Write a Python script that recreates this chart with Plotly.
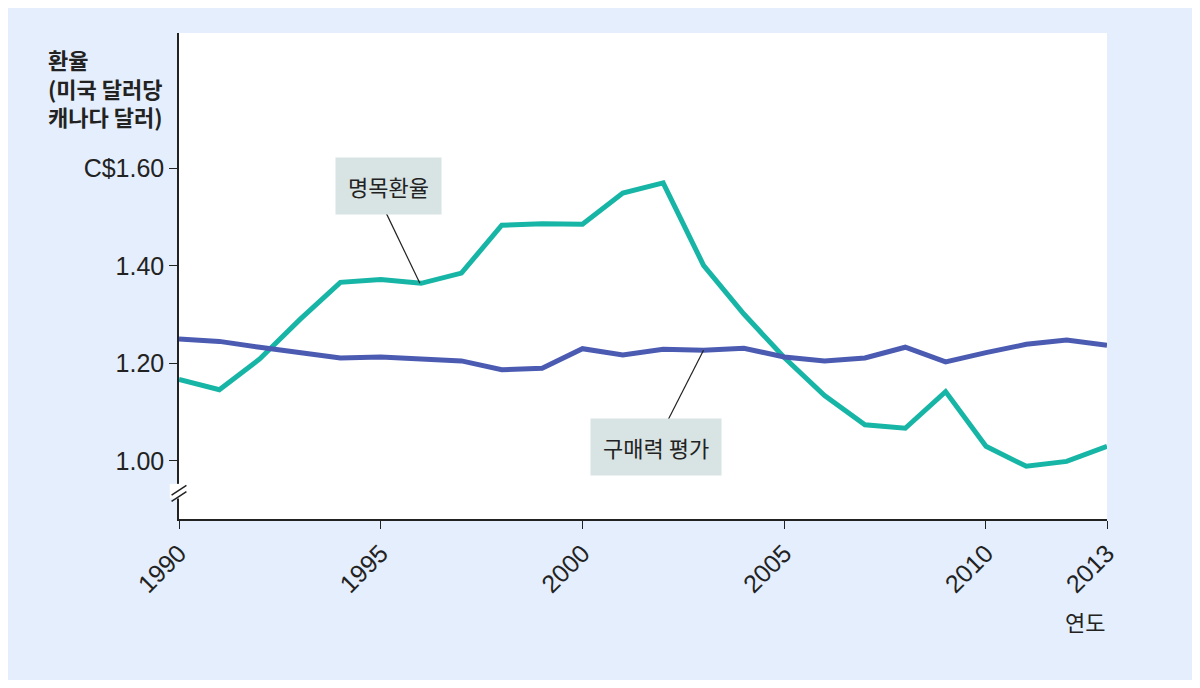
import plotly.graph_objects as go

years = list(range(1990, 2014))
nominal = [1.167, 1.146, 1.209, 1.290, 1.366, 1.372, 1.364, 1.385, 1.483, 1.486, 1.485, 1.549,
           1.570, 1.401, 1.301, 1.212, 1.134, 1.074, 1.067, 1.142, 1.030, 0.989, 0.999, 1.030]
ppp = [1.250, 1.245, 1.233, 1.222, 1.211, 1.213, 1.210, 1.205, 1.187, 1.190, 1.230, 1.217,
       1.229, 1.227, 1.231, 1.213, 1.205, 1.211, 1.233, 1.203, 1.222, 1.239, 1.248, 1.237]
ytick_vals = [1.00, 1.20, 1.40, 1.60]
ytick_text = ["1.00", "1.20", "1.40", "C$1.60"]
xtick_vals = [1990, 1995, 2000, 2005, 2010, 2013]

KR = "Noto Sans CJK KR"
NUM = "Liberation Sans Narrow, Liberation Sans, Arial"

fig = go.Figure()
fig.add_trace(go.Scatter(x=years, y=nominal, mode="lines", line=dict(color="#17B5A6", width=5)))
fig.add_trace(go.Scatter(x=years, y=ppp, mode="lines", line=dict(color="#4C5BB2", width=5)))

fig.update_layout(
    width=1184, height=672, showlegend=False,
    paper_bgcolor="#E4EEFC", plot_bgcolor="white",
    margin=dict(l=171, r=85, t=25, b=161),
    xaxis=dict(range=[1990, 2013], tickvals=xtick_vals, ticks="outside", ticklen=8,
               tickcolor="#222", showline=True, linecolor="#222", linewidth=1.5,
               showgrid=False, zeroline=False, tickangle=-45,
               tickfont=dict(family=NUM, size=25, color="#222")),
    yaxis=dict(range=[0.881, 1.877], tickvals=ytick_vals, ticktext=ytick_text,
               ticks="outside", ticklen=8, tickcolor="#222", showline=True,
               linecolor="#222", linewidth=1.5, showgrid=False, zeroline=False,
               tickfont=dict(family=NUM, size=25, color="#222")),
    shapes=[
        dict(type="rect", xref="paper", yref="y", x0=-0.01, x1=0.01, y0=0.923, y1=0.953,
             fillcolor="white", line=dict(width=0), layer="above"),
        dict(type="line", xref="paper", yref="y", x0=-0.008, x1=0.008, y0=0.93, y1=0.95,
             line=dict(color="#222", width=1.5)),
        dict(type="line", xref="paper", yref="y", x0=-0.008, x1=0.008, y0=0.917, y1=0.937,
             line=dict(color="#222", width=1.5)),
        dict(type="line", xref="x", yref="y", x0=1995.1, y0=1.514, x1=1995.97, y1=1.364,
             line=dict(color="#222", width=1.2)),
        dict(type="line", xref="x", yref="y", x0=2002.12, y0=1.084, x1=2003.0, y1=1.227,
             line=dict(color="#222", width=1.2)),
    ],
    annotations=[
        dict(text="명목환율", x=1995.18, y=1.563, xref="x", yref="y", showarrow=False,
             font=dict(family=KR, size=22, color="#222"), bgcolor="#D8E3E4",
             borderpad=12),
        dict(text="구매력 평가", x=2001.82, y=1.028, xref="x", yref="y", showarrow=False,
             font=dict(family=KR, size=22, color="#222"), bgcolor="#D8E3E4",
             borderpad=12),
        dict(text="<b>환율<br>(미국 달러당<br>캐나다 달러)</b>", x=0, y=1.86, xref="paper", yref="y",
             xanchor="right", yanchor="top", xshift=-14, showarrow=False, align="left",
             font=dict(family=KR, size=22, color="#222")),
        dict(text="연도", x=1, y=0, xref="paper", yref="paper", xanchor="right", yanchor="top",
             yshift=-84, showarrow=False, font=dict(family=KR, size=22, color="#222")),
    ],
)
fig.write_html("out.html")
